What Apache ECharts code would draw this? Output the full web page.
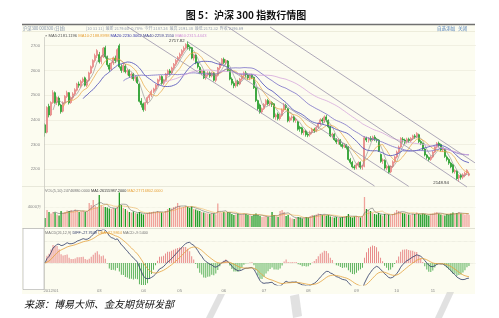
<!DOCTYPE html>
<html><head><meta charset="utf-8">
<script src="https://cdn.jsdelivr.net/npm/echarts@6.0.0/dist/echarts.min.js"></script>
<style>html,body{margin:0;padding:0;background:#fff;}#c{width:499px;height:318px;}</style>
</head><body><div id="c"></div>
<script>
// [open, close, low, high]
const candles = [
[2380,2348,2332,2386],[2350,2450,2345,2455],[2455,2420,2410,2465],[2420,2470,2415,2475],[2470,2510,2465,2520],
[2510,2470,2465,2515],[2470,2490,2460,2495],[2488,2461,2455,2495],[2460,2433,2425,2465],[2435,2470,2430,2475],
[2470,2495,2465,2500],[2495,2510,2488,2518],[2510,2469,2462,2512],[2470,2490,2465,2495],[2490,2505,2482,2512],
[2505,2522,2498,2528],[2520,2545,2515,2550],[2545,2540,2530,2555],[2538,2555,2530,2562],[2555,2565,2548,2572],
[2570,2540,2535,2575],[2540,2560,2532,2565],[2560,2590,2555,2595],[2590,2615,2585,2620],[2615,2640,2608,2645],
[2640,2660,2632,2668],[2660,2680,2650,2686],[2664,2635,2628,2675],[2636,2655,2625,2662],[2655,2690,2650,2695],
[2692,2655,2648,2700],[2655,2623,2615,2660],[2622,2605,2595,2630],[2605,2630,2600,2636],[2630,2651,2622,2656],
[2650,2640,2630,2660],[2640,2684,2635,2690],[2700,2615,2608,2708],[2615,2600,2590,2625],[2600,2620,2592,2630],
[2618,2595,2588,2625],[2595,2600,2580,2606],[2600,2578,2570,2605],[2580,2585,2565,2592],[2585,2566,2558,2590],
[2568,2572,2555,2578],[2572,2550,2545,2576],[2545,2475,2470,2548],[2476,2462,2450,2488],[2465,2441,2433,2470],
[2442,2470,2436,2474],[2470,2490,2462,2495],[2490,2500,2478,2506],[2500,2515,2492,2522],[2515,2525,2508,2530],
[2525,2540,2518,2546],[2540,2562,2535,2567],[2562,2575,2555,2580],[2575,2548,2542,2580],[2548,2560,2540,2566],
[2560,2585,2555,2590],[2585,2598,2578,2604],[2598,2590,2580,2606],[2590,2610,2585,2615],[2610,2625,2602,2630],
[2625,2640,2618,2646],[2640,2652,2632,2658],[2652,2665,2645,2672],[2665,2680,2658,2686],[2680,2690,2672,2698],
[2690,2705,2684,2710],[2705,2695,2685,2717.82],[2695,2690,2680,2702],[2692,2650,2645,2695],[2650,2662,2640,2668],
[2662,2630,2625,2665],[2630,2615,2608,2636],[2612,2590,2585,2618],[2590,2598,2580,2604],[2598,2570,2565,2602],
[2570,2582,2562,2588],[2582,2590,2575,2597],[2590,2578,2570,2596],[2578,2590,2572,2595],[2590,2560,2555,2594],
[2560,2580,2552,2585],[2580,2610,2575,2614],[2610,2625,2602,2632],[2625,2645,2618,2650],[2645,2632,2625,2652],
[2632,2640,2622,2646],[2638,2600,2595,2642],[2600,2565,2560,2604],[2565,2548,2540,2572],[2548,2538,2528,2556],
[2538,2555,2530,2560],[2555,2545,2535,2562],[2545,2565,2540,2570],[2565,2578,2558,2584],[2578,2590,2570,2596],
[2590,2582,2572,2598],[2582,2570,2562,2588],[2570,2580,2560,2585],[2580,2572,2565,2586],[2572,2530,2525,2575],
[2530,2478,2472,2534],[2478,2445,2438,2482],[2460,2432,2425,2466],[2432,2445,2426,2450],[2445,2462,2440,2468],
[2462,2478,2455,2484],[2478,2465,2458,2485],[2465,2470,2455,2476],[2470,2462,2452,2475],[2465,2412,2405,2468],
[2412,2420,2400,2426],[2424,2405,2398,2430],[2405,2418,2398,2424],[2418,2440,2412,2446],[2440,2460,2432,2468],
[2458,2450,2440,2465],[2445,2396,2390,2448],[2398,2408,2390,2414],[2408,2412,2398,2418],[2412,2398,2390,2416],
[2398,2402,2388,2408],[2392,2362,2356,2396],[2370,2365,2352,2376],[2368,2348,2340,2372],[2350,2355,2338,2362],
[2355,2340,2332,2360],[2342,2338,2330,2350],[2340,2350,2332,2356],[2350,2362,2342,2368],[2362,2355,2348,2368],
[2356,2370,2350,2376],[2370,2385,2364,2390],[2385,2400,2378,2406],[2400,2395,2385,2408],[2395,2412,2388,2418],
[2412,2400,2390,2420],[2398,2372,2366,2402],[2372,2335,2330,2376],[2338,2342,2325,2348],[2342,2320,2315,2346],
[2320,2310,2302,2326],[2312,2318,2300,2325],[2318,2300,2292,2322],[2300,2292,2284,2306],[2292,2298,2286,2305],
[2298,2288,2280,2302],[2290,2240,2235,2294],[2240,2228,2220,2246],[2228,2210,2204,2234],[2210,2206,2198,2218],
[2206,2218,2200,2224],[2216,2226,2208,2232],[2228,2208,2200,2232],[2208,2212,2198,2218],[2212,2328,2208,2334],
[2326,2318,2310,2332],[2318,2325,2308,2330],[2325,2320,2312,2334],[2320,2330,2314,2336],[2330,2322,2314,2338],
[2322,2318,2308,2326],[2318,2275,2270,2322],[2260,2232,2226,2264],[2235,2238,2222,2244],[2236,2205,2198,2240],
[2205,2212,2196,2218],[2212,2188,2182,2216],[2190,2212,2184,2216],[2212,2230,2205,2236],[2230,2250,2224,2255],
[2250,2270,2244,2276],[2270,2290,2264,2296],[2290,2325,2286,2330],[2322,2318,2308,2330],[2318,2310,2302,2324],
[2310,2322,2304,2328],[2322,2315,2306,2328],[2315,2325,2310,2330],[2325,2335,2318,2340],[2335,2332,2324,2342],
[2332,2345,2326,2350],[2340,2312,2306,2344],[2312,2305,2298,2318],[2305,2282,2276,2308],[2282,2258,2252,2286],
[2258,2248,2240,2262],[2248,2240,2232,2252],[2240,2250,2234,2256],[2250,2270,2245,2275],[2270,2290,2265,2295],
[2290,2305,2284,2310],[2305,2296,2288,2312],[2300,2278,2272,2304],[2278,2282,2270,2288],[2280,2252,2246,2284],
[2250,2240,2232,2256],[2240,2225,2218,2245],[2225,2210,2204,2230],[2218,2190,2184,2222],[2190,2195,2182,2200],
[2192,2162,2156,2196],[2165,2175,2148.94,2180],[2175,2168,2158,2182],[2168,2178,2160,2184],[2176,2184,2168,2190],
[2186,2196,2178,2200],[2176,2182,2172,2191]
];
// volume, 万手
const volumes = [
1800,3400,3000,2700,3000,2900,2500,2300,3200,2800,
3000,3300,3200,3400,3200,3500,3300,3000,3100,3200,
3000,3100,4800,4400,5400,4200,4000,6400,4300,4100,
4000,3900,3700,3600,3800,3700,4000,6900,4400,3800,
3600,3300,3000,2900,3100,2800,2700,3000,2700,2500,
2600,2800,3000,3000,3100,3000,3200,3000,2900,2800,
3200,3600,3800,3700,4000,4100,4800,4200,3900,4000,
4200,4000,3800,4100,3600,3500,3300,3200,3000,2900,
2800,2700,2600,2800,2700,2500,4700,2900,2800,3000,
2800,3000,2900,2600,2400,2500,2700,2600,2500,2700,
2600,2400,2300,2200,2500,2700,2400,2200,2000,2100,
2200,2000,1900,3000,2400,2100,2000,3200,3400,3000,
2200,2400,1900,1700,1600,1800,2000,1900,1700,1800,
2000,1900,2200,2400,2300,2500,2700,2600,2400,2500,
2300,2400,2100,2000,1900,2000,1800,1900,2000,2100,
2200,2600,2000,1900,2100,2200,2000,1900,2100,6000,
3600,3400,3200,2800,2600,2500,2800,2500,2300,2600,
2400,2500,2300,2600,2900,3400,3200,3000,2800,2700,
2600,2500,2400,2700,2600,2900,2600,2500,2700,2600,
2400,2300,2600,2700,2900,3000,2700,2500,2400,2300,
2600,2500,2700,2900,2600,2800,3000,2700,2600,2500,2700,2474.688
];
// x tick labels: [category index, text]
const tickLabels = [[3,'2012/01'],[27,'03'],[49,'04'],[67,'05'],[89,'06'],[109,'07'],[131,'08'],[155,'09'],[175,'10'],[193,'11']];
// trend channel lines: [[idx, price],[idx, price]]
const channelLines = [
  [[41,2777],[164,2132.4]],
  [[91,2776],[210,2128.4]],
  [[112,2775.6],[214,2225.9]],
  [[71,2716],[181,2130.8]]
];
const slotCount = 215;
const peakLabel = [71, 2717.82];
const lowLabel = [206, 2148.94];

const categories = [];
for (let i = 0; i < slotCount; i++) categories.push(String(i));
const closes = candles.map(c => c[1]);
function ma(arr, n) {
  return arr.map((_, i) => {
    if (i < n - 1) return '-';
    let s = 0; for (let k = i - n + 1; k <= i; k++) s += arr[k];
    return +(s / n).toFixed(2);
  });
}
let e12 = closes[0], e26 = closes[0], dea = 0;
const difArr = [], deaArr = [], histArr = [];
closes.forEach(c => {
  e12 = e12 * 11 / 13 + c * 2 / 13;
  e26 = e26 * 25 / 27 + c * 2 / 27;
  const d = e12 - e26;
  dea = dea * 0.8 + d * 0.2;
  difArr.push(+d.toFixed(3)); deaArr.push(+dea.toFixed(3)); histArr.push(+(2 * (d - dea)).toFixed(3));
});
const labelMap = new Map(tickLabels);
const volData = volumes.map((v, i) => ({ value: v, itemStyle: { color: candles[i][1] >= candles[i][0] ? '#f0a29a' : '#1f9a24' } }));
const histData = histArr.map(v => ({ value: v, itemStyle: { color: v >= 0 ? '#e88a8a' : '#5cb35c' } }));

const FS = 'Liberation Sans, DejaVu Sans, sans-serif';
const CJK = 'Noto Sans CJK SC, sans-serif';
function txt(x, y, s, fill, size, extra) {
  return Object.assign({ type: 'text', x: x, y: y, z: 50, silent: true,
    style: Object.assign({ text: s, fill: fill, fontSize: size, fontFamily: FS, verticalAlign: 'middle', align: 'left' }, extra || {}) });
}
function rich(x, y, parts, size) {
  const r = {}; let s = '';
  parts.forEach((p, i) => { r['p' + i] = { fill: p[1], color: p[1], fontSize: size, fontFamily: FS }; s += (i ? ' ' : '') + '{p' + i + '|' + p[0] + '}'; });
  return { type: 'text', x: x, y: y, z: 50, silent: true, style: { text: s, rich: r, fontSize: size, fontFamily: FS, verticalAlign: 'middle', align: 'left' } };
}
function hline(x1, x2, y, color, w) {
  return { type: 'line', z: 1, silent: true, shape: { x1: x1, y1: y, x2: x2, y2: y }, style: { stroke: color, lineWidth: w } };
}
function poly(pts) {
  return { type: 'polygon', z: 60, silent: true, shape: { points: pts }, style: { fill: 'rgba(200,200,200,0.55)' } };
}
const baseX = (g) => ({ type: 'category', gridIndex: g, data: categories, boundaryGap: true,
  axisLine: { show: false }, axisTick: { show: false }, axisLabel: { show: false }, splitLine: { show: false } });

const chart = echarts.init(document.getElementById('c'), null, { renderer: 'canvas' });
chart.setOption({
  animation: false,
  backgroundColor: '#ffffff',
  grid: [
    { left: 44, width: 432, top: 21, height: 173, outerBoundsMode: 'none' },
    { left: 44, width: 432, top: 187, height: 40, outerBoundsMode: 'none' },
    { left: 44, width: 432, top: 230, height: 55, outerBoundsMode: 'none' }
  ],
  xAxis: [
    baseX(0), baseX(1),
    Object.assign(baseX(2), { axisLabel: { show: true, interval: (i) => labelMap.has(i),
      formatter: (v, i) => labelMap.get(i) || '', fontSize: 4.2, color: '#8a8a8a', margin: 4, fontFamily: FS } })
  ],
  yAxis: [
    { type: 'value', gridIndex: 0, min: 2100, max: 2800, interval: 100, axisLine: { show: false }, axisTick: { show: false },
      axisLabel: { fontSize: 4.2, color: '#8a8a8a', margin: 4, fontFamily: FS, showMinLabel: false, showMaxLabel: false, formatter: v => String(v) },
      splitLine: { show: true, showMinLine: false, showMaxLine: false, lineStyle: { color: '#e9e8d8', width: 0.6 } } },
    { type: 'value', gridIndex: 1, min: 0, max: 8000, interval: 4000, axisLine: { show: false }, axisTick: { show: false },
      axisLabel: { fontSize: 4.2, color: '#8a8a8a', margin: 3, fontFamily: FS, showMinLabel: false, showMaxLabel: false, formatter: v => String(v) + '万' },
      splitLine: { show: true, showMinLine: false, showMaxLine: false, lineStyle: { color: '#e6e5d6', width: 0.6, type: 'dotted' } } },
    { type: 'value', gridIndex: 2, min: -40, max: 60, interval: 40, axisLine: { show: false }, axisTick: { show: false },
      axisLabel: { fontSize: 4.2, color: '#8a8a8a', margin: 4, fontFamily: FS, showMinLabel: false, showMaxLabel: false, formatter: v => String(v) },
      splitLine: { show: true, showMinLine: false, showMaxLine: false, lineStyle: { color: '#d8d8cc', width: 0.6, type: 'dotted' } } }
  ],
  series: [
    { type: 'candlestick', xAxisIndex: 0, yAxisIndex: 0, data: candles, barWidth: 1.5,
      itemStyle: { color: '#fbdcd6', color0: '#1c9a22', borderColor: '#e27070', borderColor0: '#1c9a22', borderWidth: 0.7 },
      markLine: { silent: true, symbol: ['none', 'none'], label: { show: false },
        lineStyle: { color: '#9b93ab', width: 0.8, type: 'solid' },
        data: channelLines.map(l => [{ coord: l[0] }, { coord: l[1] }]) },
      markPoint: { silent: true, symbol: 'circle', symbolSize: 0.1,
        data: [
          { coord: peakLabel, label: { show: true, formatter: String(peakLabel[1]), position: 'left', distance: 3, fontSize: 4.3, color: '#333', fontFamily: FS } },
          { coord: lowLabel, label: { show: true, formatter: String(lowLabel[1]), position: 'left', distance: 10, offset: [0, 1], fontSize: 4.3, color: '#333', fontFamily: FS } }
        ] } },
    { type: 'line', name: 'MA5', data: ma(closes, 5), xAxisIndex: 0, yAxisIndex: 0, showSymbol: false, lineStyle: { color: '#8a8a8a', width: 0.6 } },
    { type: 'line', name: 'MA10', data: ma(closes, 10), xAxisIndex: 0, yAxisIndex: 0, showSymbol: false, lineStyle: { color: '#e8a33c', width: 0.7 } },
    { type: 'line', name: 'MA20', data: ma(closes, 20), xAxisIndex: 0, yAxisIndex: 0, showSymbol: false, lineStyle: { color: '#4a4ab8', width: 0.8 } },
    { type: 'line', name: 'MA40', data: ma(closes, 40), xAxisIndex: 0, yAxisIndex: 0, showSymbol: false, lineStyle: { color: '#7a6fc8', width: 0.8 } },
    { type: 'line', name: 'MA60', data: ma(closes, 60), xAxisIndex: 0, yAxisIndex: 0, showSymbol: false, lineStyle: { color: '#d6a6dc', width: 0.8 } },
    { type: 'bar', data: volData, xAxisIndex: 1, yAxisIndex: 1, barWidth: 1.3 },
    { type: 'line', data: ma(volumes, 5), xAxisIndex: 1, yAxisIndex: 1, showSymbol: false, lineStyle: { color: '#555', width: 0.5 } },
    { type: 'line', data: ma(volumes, 10), xAxisIndex: 1, yAxisIndex: 1, showSymbol: false, lineStyle: { color: '#e8a33c', width: 0.5 } },
    { type: 'bar', data: histData, xAxisIndex: 2, yAxisIndex: 2, barWidth: 0.7 },
    { type: 'line', data: difArr, xAxisIndex: 2, yAxisIndex: 2, showSymbol: false, lineStyle: { color: '#2c3866', width: 0.8 } },
    { type: 'line', data: deaArr, xAxisIndex: 2, yAxisIndex: 2, showSymbol: false, lineStyle: { color: '#e6a23c', width: 0.8 } }
  ],
  graphic: [
    { type: 'rect', z: -10, silent: true, shape: { x: 22, y: 25, width: 453, height: 269 }, style: { fill: '#fcfcf0' } },
    { type: 'line', z: 5, silent: true, shape: { x1: 22, y1: 24.5, x2: 475, y2: 24.5 }, style: { stroke: '#707070', lineWidth: 1.5 } },
    hline(22, 475, 31.5, '#e2e0cc', 0.6),
    hline(22, 475, 186.5, '#e0dfd0', 0.7),
    hline(22, 475, 228.5, '#d6d5c6', 0.7),
    { type: 'rect', z: 2, silent: true, shape: { x: 23, y: 228.5, width: 21, height: 61 }, style: { fill: '#ffffff', stroke: '#a8a8a8', lineWidth: 0.6 } },
    { type: 'line', z: 3, silent: true, shape: { x1: 44.5, y1: 37, x2: 44.5, y2: 289 }, style: { stroke: '#c4c4bc', lineWidth: 0.7 } },
    txt(246, 15, '图 5：沪深 300 指数行情图', '#111', 10, { align: 'center', fontFamily: CJK, fontWeight: 'bold' }),
    txt(23, 28, '沪深300 000300 (日线)', '#8191a8', 4.2, { fontFamily: CJK }),
    txt(86, 28, '[10 31 11]  最新 2179.60 -0.78%  今开 2187.24  最高 2191.38  最低 2172.32  昨收 2196.69', '#98a0b2', 4, { fontFamily: CJK }),
    txt(437, 28, '自选添加', '#4a7ab5', 4.6, { fontFamily: CJK }),
    txt(458, 28, '关闭', '#4a7ab5', 4.6, { fontFamily: CJK }),
    rich(45, 35.5, [['× MA5:2181.1196', '#555'], ['MA10:2188.8998', '#e8a33c'], ['MA20:2230.3062', '#3a3aa8'], ['MA40:2259.1550', '#3a3a8a'], ['MA60:2315.4443', '#d090d8']], 4.1),
    rich(45, 190.5, [['VOL(5,10) 24746880.0000', '#777'], ['MA1:26155987.2000', '#333'], ['MA2:27716802.0000', '#e8a33c']], 3.8),
    rich(45, 232.5, [['MACD(26,12,9)', '#777'], ['DIFF:-27.7649', '#2c3866'], ['DEA:-22.9864', '#e6a23c'], ['MACD:-9.5400', '#777']], 3.8),
    txt(24, 304, '来源：博易大师、金友期货研发部', '#111', 10, { fontFamily: CJK, fontStyle: 'italic' }),
    poly([[218, 294], [225, 294], [213, 318], [206, 318]]),
    poly([[290, 296], [299, 294], [302, 316], [293, 318]]),
    poly([[447, 292], [454, 292], [442, 318], [435, 318]])
  ]
});
</script>
</body></html>
